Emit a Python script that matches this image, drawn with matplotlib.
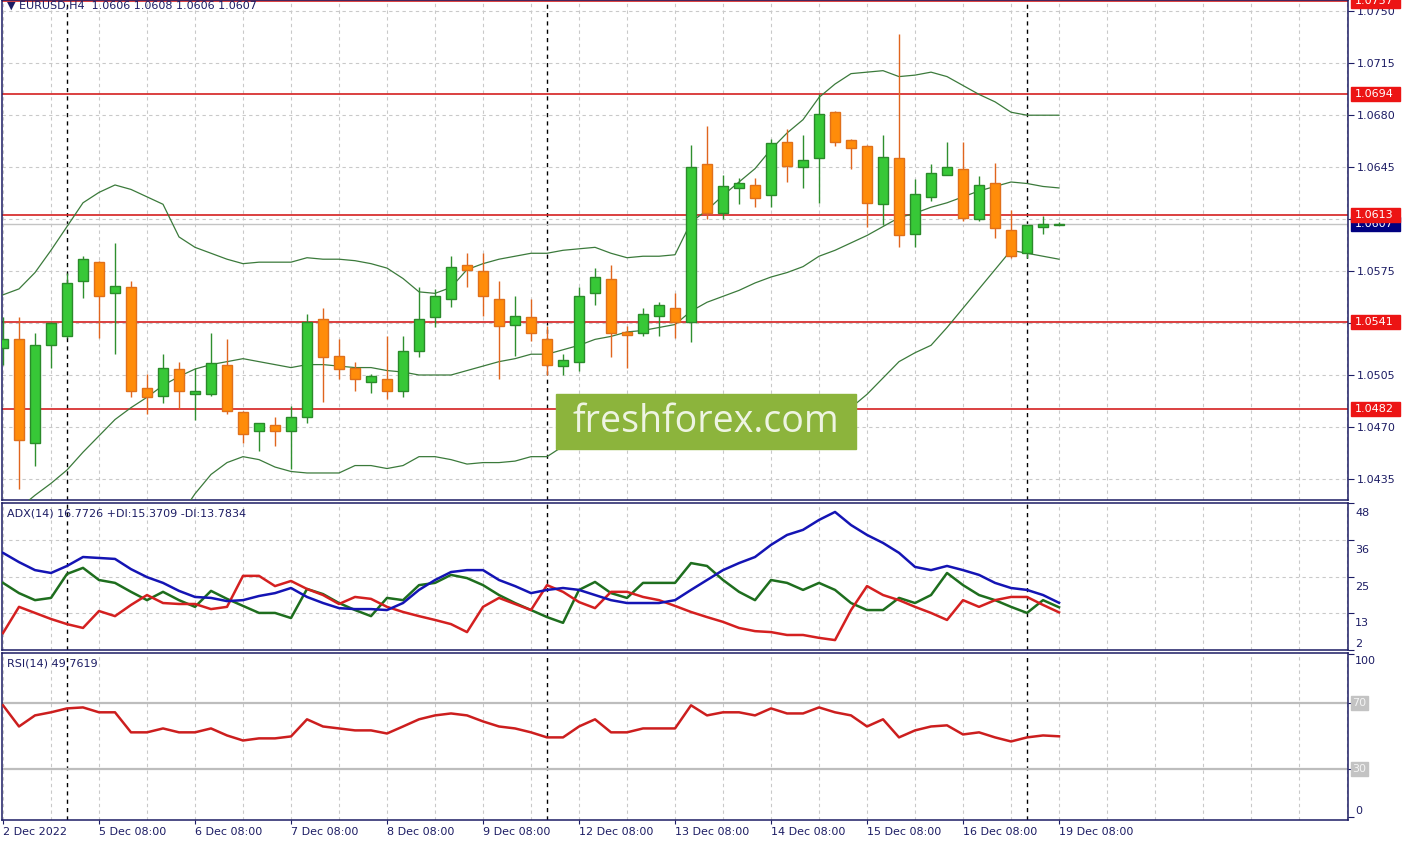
import matplotlib
matplotlib.use("Agg")
import matplotlib.pyplot as plt
from matplotlib.patches import Rectangle
import matplotlib.transforms as mtransforms

# EURUSD H4 candles, 2 Dec 2022 08:00 .. 19 Dec 2022 08:00
opens = [1.0523, 1.0529, 1.0459, 1.0525, 1.0531, 1.0568, 1.0581, 1.0560, 1.0564, 1.0496,
         1.0491, 1.0509, 1.0492, 1.0492, 1.0512, 1.0480, 1.0467, 1.0471, 1.0467, 1.0477,
         1.0543, 1.0518, 1.0510, 1.0500, 1.0502, 1.0494, 1.0521, 1.0544, 1.0556, 1.0579,
         1.0575, 1.0556, 1.0539, 1.0544, 1.0529, 1.0511, 1.0514, 1.0560, 1.0570, 1.0534,
         1.0533, 1.0545, 1.0550, 1.0541, 1.0647, 1.0614, 1.0631, 1.0633, 1.0626, 1.0662,
         1.0645, 1.0651, 1.0682, 1.0663, 1.0659, 1.0620, 1.0651, 1.0600, 1.0625, 1.0640,
         1.0644, 1.0610, 1.0634, 1.0603, 1.0587, 1.0605, 1.0606]
highs = [1.0544, 1.0544, 1.0533, 1.0541, 1.0574, 1.0585, 1.0582, 1.0594, 1.0568, 1.0506,
         1.0519, 1.0514, 1.0510, 1.0533, 1.0529, 1.0481, 1.0473, 1.0477, 1.0484, 1.0546,
         1.0550, 1.0529, 1.0514, 1.0506, 1.0531, 1.0531, 1.0564, 1.0563, 1.0585, 1.0587,
         1.0587, 1.0568, 1.0558, 1.0556, 1.0538, 1.0519, 1.0564, 1.0577, 1.0579, 1.0538,
         1.0550, 1.0554, 1.0560, 1.0660, 1.0673, 1.0640, 1.0638, 1.0638, 1.0664, 1.0671,
         1.0667, 1.0694, 1.0683, 1.0664, 1.0660, 1.0667, 1.0735, 1.0637, 1.0647, 1.0662,
         1.0662, 1.0639, 1.0648, 1.0616, 1.0606, 1.0612, 1.0608]
lows = [1.0512, 1.0428, 1.0444, 1.0510, 1.0530, 1.0557, 1.0530, 1.0519, 1.0490, 1.0479,
        1.0486, 1.0482, 1.0475, 1.0491, 1.0479, 1.0459, 1.0454, 1.0457, 1.0442, 1.0473,
        1.0487, 1.0502, 1.0494, 1.0493, 1.0489, 1.0490, 1.0517, 1.0537, 1.0551, 1.0564,
        1.0545, 1.0502, 1.0518, 1.0528, 1.0505, 1.0505, 1.0508, 1.0552, 1.0517, 1.0510,
        1.0531, 1.0531, 1.0530, 1.0527, 1.0610, 1.0610, 1.0620, 1.0618, 1.0618, 1.0635,
        1.0631, 1.0621, 1.0659, 1.0644, 1.0605, 1.0606, 1.0591, 1.0591, 1.0622, 1.0640,
        1.0609, 1.0609, 1.0597, 1.0584, 1.0584, 1.0600, 1.0606]
closes = [1.0529, 1.0461, 1.0525, 1.0540, 1.0567, 1.0583, 1.0558, 1.0565, 1.0494, 1.0490,
          1.0510, 1.0494, 1.0494, 1.0513, 1.0481, 1.0465, 1.0473, 1.0467, 1.0477, 1.0541,
          1.0517, 1.0509, 1.0502, 1.0504, 1.0494, 1.0521, 1.0543, 1.0558, 1.0578, 1.0576,
          1.0558, 1.0538, 1.0545, 1.0533, 1.0512, 1.0515, 1.0558, 1.0571, 1.0533, 1.0532,
          1.0546, 1.0552, 1.0541, 1.0645, 1.0614, 1.0632, 1.0634, 1.0624, 1.0661, 1.0646,
          1.0650, 1.0681, 1.0662, 1.0658, 1.0621, 1.0652, 1.0599, 1.0627, 1.0641, 1.0645,
          1.0611, 1.0633, 1.0604, 1.0585, 1.0606, 1.0607, 1.0607]

# Bollinger bands
bb_upper = [1.0559, 1.0563, 1.0574, 1.0589, 1.0605, 1.0621, 1.0628, 1.0633, 1.0630, 1.0625,
            1.0620, 1.0598, 1.0591, 1.0587, 1.0583, 1.0580, 1.0581, 1.0581, 1.0581, 1.0584,
            1.0583, 1.0583, 1.0582, 1.0580, 1.0577, 1.0570, 1.0561, 1.0560, 1.0564, 1.0576,
            1.0580, 1.0583, 1.0585, 1.0587, 1.0587, 1.0589, 1.0590, 1.0591, 1.0587, 1.0584,
            1.0585, 1.0585, 1.0586, 1.0608, 1.0616, 1.0626, 1.0635, 1.0644, 1.0657, 1.0668,
            1.0677, 1.0692, 1.0701, 1.0708, 1.0709, 1.0710, 1.0706, 1.0707, 1.0709, 1.0706,
            1.0700, 1.0694, 1.0689, 1.0682, 1.0680, 1.0680, 1.0680]
bb_middle = [1.0406, 1.0415, 1.0424, 1.0432, 1.0441, 1.0453, 1.0464, 1.0475, 1.0483, 1.0490,
             1.0498, 1.0504, 1.0509, 1.0512, 1.0514, 1.0516, 1.0514, 1.0512, 1.0510, 1.0512,
             1.0512, 1.0511, 1.0510, 1.0510, 1.0508, 1.0507, 1.0505, 1.0505, 1.0505, 1.0508,
             1.0511, 1.0514, 1.0516, 1.0519, 1.0519, 1.0522, 1.0525, 1.0529, 1.0531, 1.0534,
             1.0535, 1.0537, 1.0539, 1.0548, 1.0554, 1.0558, 1.0562, 1.0567, 1.0571, 1.0574,
             1.0578, 1.0585, 1.0589, 1.0594, 1.0599, 1.0605, 1.0611, 1.0614, 1.0618, 1.0621,
             1.0625, 1.0629, 1.0632, 1.0635, 1.0634, 1.0632, 1.0631]
bb_lower = [1.0253, 1.0267, 1.0273, 1.0275, 1.0277, 1.0285, 1.0300, 1.0316, 1.0335, 1.0356,
            1.0376, 1.0409, 1.0425, 1.0438, 1.0446, 1.0450, 1.0448, 1.0443, 1.0440, 1.0439,
            1.0439, 1.0439, 1.0444, 1.0444, 1.0442, 1.0444, 1.0450, 1.0450, 1.0448, 1.0445,
            1.0446, 1.0446, 1.0447, 1.0450, 1.0450, 1.0457, 1.0459, 1.0461, 1.0464, 1.0467,
            1.0469, 1.0472, 1.0475, 1.0476, 1.0477, 1.0479, 1.0479, 1.0480, 1.0480, 1.0480,
            1.0480, 1.0480, 1.0481, 1.0483, 1.0492, 1.0503, 1.0514, 1.0520, 1.0525, 1.0537,
            1.0550, 1.0563, 1.0576, 1.0589, 1.0587, 1.0585, 1.0583]

adx = [32.4, 29.5, 27.0, 26.1, 28.3, 31.1, 30.8, 30.5, 27.3, 24.8,
       23.0, 20.5, 18.6, 18.3, 17.3, 17.6, 18.9, 19.8, 21.4, 18.6,
       16.7, 15.1, 14.8, 14.8, 14.5, 16.7, 20.8, 23.9, 26.4, 27.0,
       27.0, 23.9, 22.0, 19.8, 20.8, 21.4, 20.8, 19.2, 17.6, 16.7,
       16.7, 16.7, 17.6, 20.8, 23.9, 27.0, 29.2, 31.1, 34.9, 38.0,
       39.6, 42.7, 45.2, 41.1, 38.0, 35.5, 32.4, 28.0, 27.0, 28.3,
       27.0, 25.5, 23.0, 21.4, 20.8, 19.2, 16.77]
plus_di = [23.0, 19.8, 17.6, 18.3, 25.8, 27.7, 23.9, 23.0, 20.2, 17.6,
           20.2, 17.6, 15.5, 20.5, 18.0, 15.8, 13.6, 13.6, 12.0, 21.1,
           19.5, 16.7, 14.5, 12.6, 18.3, 17.6, 22.3, 23.0, 25.5, 24.5,
           22.3, 19.2, 16.7, 14.5, 12.3, 10.5, 20.8, 23.3, 19.8, 18.3,
           23.0, 23.0, 23.0, 29.2, 28.3, 23.9, 20.2, 17.6, 23.9, 23.0,
           20.8, 23.0, 20.8, 16.7, 14.5, 14.5, 18.3, 16.7, 19.2, 26.1,
           22.3, 19.2, 17.6, 15.5, 13.6, 17.6, 15.37]
minus_di = [7.3, 15.5, 13.6, 11.7, 10.1, 8.9, 14.2, 12.6, 16.1, 19.2,
            16.7, 16.4, 16.4, 14.8, 15.5, 25.2, 25.2, 22.0, 23.6, 21.1,
            19.2, 16.4, 18.6, 18.0, 15.5, 13.9, 12.6, 11.4, 10.1, 7.6,
            15.5, 18.3, 16.4, 14.5, 22.3, 20.2, 17.0, 15.1, 20.2, 20.2,
            18.6, 17.6, 15.8, 13.9, 12.3, 10.8, 8.9, 7.9, 7.6, 6.7,
            6.7, 5.8, 5.1, 14.5, 22.0, 19.2, 17.6, 15.5, 13.6, 11.4,
            17.6, 15.5, 17.6, 18.6, 18.6, 16.1, 13.78]
rsi = [68.8, 55.8, 62.6, 64.5, 66.9, 67.5, 64.5, 64.5, 52.2, 52.2,
       54.6, 52.2, 52.2, 54.6, 50.3, 47.2, 48.5, 48.5, 49.7, 60.2,
       55.8, 54.6, 53.4, 53.4, 51.5, 55.8, 60.2, 62.6, 63.8, 62.6,
       58.9, 55.8, 54.6, 52.2, 49.1, 49.1, 55.8, 60.2, 52.2, 52.2,
       54.6, 54.6, 54.6, 68.8, 62.6, 64.5, 64.5, 62.6, 66.9, 63.8,
       63.8, 67.5, 64.5, 62.6, 55.8, 60.2, 49.1, 53.4, 55.8, 56.5,
       50.9, 52.2, 49.1, 46.6, 49.1, 50.3, 49.76]

levels = [1.0757, 1.0694, 1.0613, 1.0541, 1.0482]
price_ticks = [1.0435, 1.0470, 1.0505, 1.0540, 1.0575, 1.0610, 1.0645, 1.0680, 1.0715, 1.0750]
last_price = 1.0607
date_labels = ['2 Dec 2022', '5 Dec 08:00', '6 Dec 08:00', '7 Dec 08:00', '8 Dec 08:00',
               '9 Dec 08:00', '12 Dec 08:00', '13 Dec 08:00', '14 Dec 08:00',
               '15 Dec 08:00', '16 Dec 08:00', '19 Dec 08:00']
week_starts = [4, 34, 64]

NAVY = '#1c1c64'
GRID = '#c9c9c9'
W, H = 1408, 841
PX = 0.0001 / 1.4846  # price units per screen pixel in the main panel

plt.rcParams['font.family'] = ['DejaVu Sans']
fig = plt.figure(figsize=(W / 100, H / 100), dpi=100)
fig.patch.set_facecolor('white')

def px_axes(x0, y0, x1, y1):
    return fig.add_axes([x0 / W, 1 - y1 / H, (x1 - x0) / W, (y1 - y0) / H])

ax = px_axes(2, 0, 1348, 500)
ax_adx = px_axes(2, 503, 1348, 650)
ax_rsi = px_axes(2, 653, 1348, 820)

n = len(closes)
xs = list(range(n))
xmin, xmax = -0.0625, 84.06
grid_x = list(range(0, 85, 3))

for a in (ax, ax_adx, ax_rsi):
    a.set_xlim(xmin, xmax)
    for s in a.spines.values():
        s.set_color(NAVY)
        s.set_linewidth(1.1)
    a.vlines(grid_x, 0, 1, transform=a.get_xaxis_transform(), colors=GRID,
             linestyles=(0, (3, 3)), linewidth=0.8, zorder=0)
    a.vlines(week_starts, 0, 1, transform=a.get_xaxis_transform(), colors='black',
             linestyles=(0, (3, 3)), linewidth=1, zorder=1)
    a.yaxis.tick_right()
    a.tick_params(axis='y', length=4, width=0.8, color=NAVY, labelcolor=NAVY,
                  labelsize=8, pad=2)

# ---- main price panel
ax.set_ylim(1.04208, 1.07576)
ax.set_yticks(price_ticks)
ax.set_yticklabels(['%.4f' % p for p in price_ticks])
ax.hlines(price_ticks, xmin, xmax, colors=GRID, linestyles=(0, (3, 3)), linewidth=0.8, zorder=0)
ax.set_xticks([])
ax.axhline(last_price, color='#c4c4c4', linewidth=1, zorder=1)
for lv in levels:
    ax.axhline(lv, color='#d42020', linewidth=1.2, zorder=2)

ax.plot(xs, bb_upper, color='#3b7a3b', linewidth=0.9, zorder=3)
ax.plot(xs, bb_middle, color='#3b7a3b', linewidth=0.9, zorder=3)
ax.plot(xs, bb_lower, color='#3b7a3b', linewidth=0.9, zorder=3)

for i in xs:
    o, h, l, c = opens[i], highs[i], lows[i], closes[i]
    up = c >= o
    wick = '#2f8f2f' if up else '#e0651e'
    fill = '#37c837' if up else '#ff8c0a'
    edge = '#2a8a2a' if up else '#e0701a'
    ax.vlines(i, l, h, color=wick, linewidth=1, zorder=4)
    body = max(abs(c - o), 0.00004)
    ax.bar(i, body, bottom=min(o, c), width=0.66, color=fill, edgecolor=edge,
           linewidth=1, zorder=5)

# price labels on the right scale
lab_tr = mtransforms.blended_transform_factory(fig.transFigure, ax.transData)
ax.add_patch(Rectangle((1351 / W, last_price - 7 * PX), 49 / W, 14 * PX, transform=lab_tr,
                       color='#000080', clip_on=False, zorder=10))
ax.text(1355 / W, last_price, '%.4f' % last_price, transform=lab_tr, color='white',
        fontsize=8, va='center', ha='left', clip_on=False, zorder=11)
for lv in levels:
    ax.add_patch(Rectangle((1351 / W, lv - 7 * PX), 49 / W, 14 * PX, transform=lab_tr,
                           color='#ec1414', clip_on=False, zorder=12))
    ax.text(1355 / W, lv, '%.4f' % lv, transform=lab_tr, color='white', fontsize=8,
            va='center', ha='left', clip_on=False, zorder=13)

ax.text(5 / 1346, 1 - 6 / 500, '\u25bc EURUSD,H4  1.0606 1.0608 1.0606 1.0607',
        transform=ax.transAxes, color=NAVY, fontsize=8, va='center', ha='left', zorder=14)

# ---- ADX panel
ax_adx.set_ylim(2, 48)
ax_adx.set_yticks([48, 36.5, 25, 13.5, 2])
ax_adx.set_yticklabels([])
ax_adx.hlines([36.5, 25, 13.5], xmin, xmax, colors=GRID, linestyles=(0, (3, 3)),
              linewidth=0.8, zorder=0)
ax_adx.set_xticks([])
ax_adx.plot(xs, plus_di, color='#1e6e1e', linewidth=1.8, zorder=3)
ax_adx.plot(xs, minus_di, color='#d42020', linewidth=1.8, zorder=3)
ax_adx.plot(xs, adx, color='#1414b4', linewidth=1.8, zorder=4)
adx_tr = mtransforms.blended_transform_factory(fig.transFigure, ax_adx.transData)
for val, txt in [(48, '48'), (36.5, '36'), (25, '25'), (13.5, '13')]:
    ax_adx.text(1355 / W, val, txt, color=NAVY, fontsize=8, va='top', ha='left',
                transform=mtransforms.offset_copy(adx_tr, fig=fig, y=-5, units='dots'),
                clip_on=False)
ax_adx.text(1355 / W, 2, '2', color=NAVY, fontsize=8, va='bottom', ha='left',
            transform=mtransforms.offset_copy(adx_tr, fig=fig, y=1, units='dots'), clip_on=False)
ax_adx.text(5 / 1346, 1 - 11 / 147, 'ADX(14) 16.7726 +DI:15.3709 -DI:13.7834',
            transform=ax_adx.transAxes, color=NAVY, fontsize=8, va='center', ha='left')

# ---- RSI panel
ax_rsi.set_ylim(-1.6, 100.9)
ax_rsi.set_yticks([100, 70, 30, 0])
ax_rsi.set_yticklabels([])
for lv in (70, 30):
    ax_rsi.axhline(lv, color='#bdbdbd', linewidth=1.6, zorder=1)
ax_rsi.plot(xs, rsi, color='#cc1e1e', linewidth=1.8, zorder=3)
rsi_tr = mtransforms.blended_transform_factory(fig.transFigure, ax_rsi.transData)
ax_rsi.text(1355 / W, 100, '100', color=NAVY, fontsize=8, va='top', ha='left',
            transform=mtransforms.offset_copy(rsi_tr, fig=fig, y=-2, units='dots'), clip_on=False)
ax_rsi.text(1355 / W, 0, '0', color=NAVY, fontsize=8, va='bottom', ha='left',
            transform=mtransforms.offset_copy(rsi_tr, fig=fig, y=1, units='dots'), clip_on=False)
for lv in (70, 30):
    ax_rsi.add_patch(Rectangle((1351 / W, lv - 7 / 1.63), 17 / W, 14 / 1.63, transform=rsi_tr,
                               color='#c3c3c3', clip_on=False, zorder=10))
    ax_rsi.text(1352 / W, lv, str(lv), transform=rsi_tr, color='#f4f4f4', fontsize=8,
                va='center', ha='left', clip_on=False, zorder=11)
ax_rsi.text(5 / 1346, 1 - 11 / 167, 'RSI(14) 49.7619', transform=ax_rsi.transAxes,
            color=NAVY, fontsize=8, va='center', ha='left')

ax_rsi.set_xticks(list(range(0, 67, 6)))
ax_rsi.set_xticklabels(date_labels, ha='left')
ax_rsi.tick_params(axis='x', length=3, width=0.8, color=NAVY, labelcolor=NAVY,
                   labelsize=8, pad=2)

# ---- watermark
fig.add_artist(Rectangle((556 / W, 1 - 449 / H), 300 / W, 55 / H, transform=fig.transFigure,
                         color='#8cb43c', zorder=5))
fig.text(706 / W, 1 - 422 / H, 'freshforex.com', ha='center', va='center', fontsize=27,
         color='#eef4e2', family='Open Sans', zorder=6)

fig.savefig('out.png', dpi=100)
